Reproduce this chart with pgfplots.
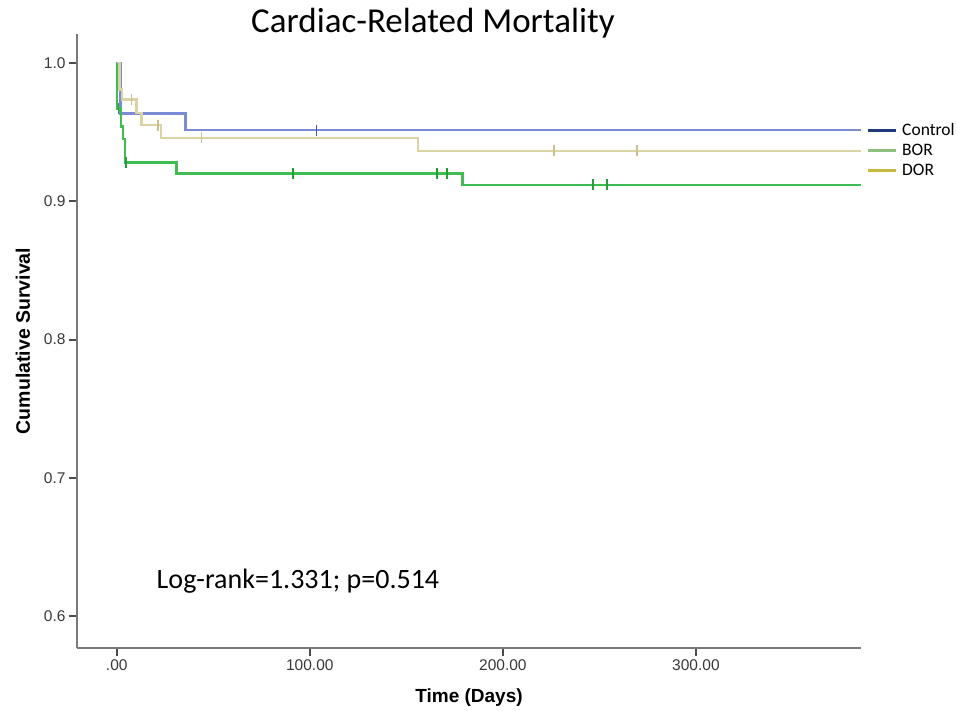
\documentclass[border=0pt]{standalone}
\usepackage{fontspec}
\setmainfont{Liberation Sans}
\newfontfamily\carlito{Carlito}
\usepackage{pgfplots}
\pgfplotsset{compat=1.18}
\definecolor{ctrlline}{HTML}{7B8BD6}
\definecolor{ctrlmark}{HTML}{3F55B0}
\definecolor{dorline}{HTML}{DAD3A2}
\definecolor{dormark}{HTML}{CABF8C}
\definecolor{borline}{HTML}{3DBD52}
\definecolor{bormark}{HTML}{22A038}
\definecolor{legctrl}{HTML}{1F3A78}
\definecolor{legbor}{HTML}{8DC07C}
\definecolor{legdor}{HTML}{C9B940}
\definecolor{axisgray}{HTML}{7A7A7A}
\begin{document}
\begin{tikzpicture}
\path[use as bounding box] (-77pt,-62pt) rectangle (880pt,648pt);
\begin{axis}[
  at={(0pt,0pt)}, anchor=south west,
  scale only axis, width=784pt, height=614pt,
  xmin=-20.6, xmax=385.5, ymin=0.577, ymax=1.021,
  axis x line*=bottom, axis y line*=left,
  axis line style={draw=axisgray, line width=1.8pt},
  xtick={0,100,200,300}, xticklabels={.00,100.00,200.00,300.00},
  ytick={0.6,0.7,0.8,0.9,1.0}, yticklabels={0.6,0.7,0.8,0.9,1.0},
  tick align=outside, major tick length=8pt,
  tick style={draw=black!70, line width=1.8pt},
  /pgf/number format/assume math mode=true,
  ticklabel style={font=\fontsize{15.5}{15.5}\selectfont, text=black!78},
  xlabel={Time (Days)}, ylabel={Cumulative Survival},
  xlabel style={at={(axis description cs:0.5,-0.08)}, anchor=center, font=\bfseries\fontsize{19}{19}\selectfont},
  ylabel style={at={(axis description cs:-0.0690,0.5)}, anchor=center, font=\bfseries\fontsize{19.5}{19.5}\selectfont},
  title={Cardiac-Related Mortality},
  title style={at={(axis description cs:0.454,0.992)}, anchor=base, font=\carlito\fontsize{35}{35}\selectfont},
  legend style={at={(axis description cs:1.0064,0.86)}, anchor=north west, draw=none, fill=none,
    inner sep=0pt, row sep=0pt, column sep=5pt, font=\carlito\fontsize{17.5}{17.5}\selectfont,
    nodes={inner sep=0pt, minimum height=20pt}},
  legend cell align=left,
  legend image code/.code={\draw[#1, line width=3pt] (0pt,0pt) -- (28pt,0pt);},
]
% Control
\addplot[ctrlline, line width=2.4pt, forget plot] coordinates {
 (0,0.976) (0,1) (2,1) (2,0.9635) (35.6,0.9635) (35.6,0.9514) (385.5,0.9514)};
\addplot[only marks, mark=|, mark size=5.5pt, mark options={draw=ctrlmark, line width=1.6pt}, forget plot] coordinates {
 (103.5,0.9514)};
% DOR (beige)
\addplot[dorline, line width=2.4pt, forget plot] coordinates {
 (0,1) (1.5,1) (1.5,0.981) (2.8,0.981) (2.8,0.9737) (10.2,0.9737) (10.2,0.964) (12.8,0.964)
 (12.8,0.955) (22.8,0.955) (22.8,0.946) (156,0.946) (156,0.9365) (385.5,0.9365)};
\addplot[only marks, mark=|, mark size=5.5pt, mark options={draw=dormark, line width=1.6pt}, forget plot] coordinates {
 (7.7,0.9737) (21.4,0.955) (43.9,0.946) (226.4,0.9365) (269.4,0.9365)};
% BOR (green)
\addplot[borline, line width=2.4pt, forget plot] coordinates {
 (0,1) (0,0.967) (2.2,0.967) (2.2,0.954) (3.2,0.954) (3.2,0.945) (4.4,0.945) (4.4,0.928)
 (31,0.928) (31,0.920) (179,0.920) (179,0.912) (385.5,0.912)};
\addplot[only marks, mark=|, mark size=5.5pt, mark options={draw=bormark, line width=1.6pt}, forget plot] coordinates {
 (1,0.967) (4.7,0.928) (91.2,0.920) (166,0.920) (171,0.920) (246.6,0.912) (254,0.912)};
\addlegendimage{legctrl}
\addlegendentry{Control}
\addlegendimage{legbor}
\addlegendentry{BOR}
\addlegendimage{legdor}
\addlegendentry{DOR}
\node[anchor=base west, font=\carlito\fontsize{28}{28}\selectfont, inner sep=0pt] at (axis cs:20.6,0.6198) {Log-rank=1.331; p=0.514};
\end{axis}
\end{tikzpicture}
\end{document}
